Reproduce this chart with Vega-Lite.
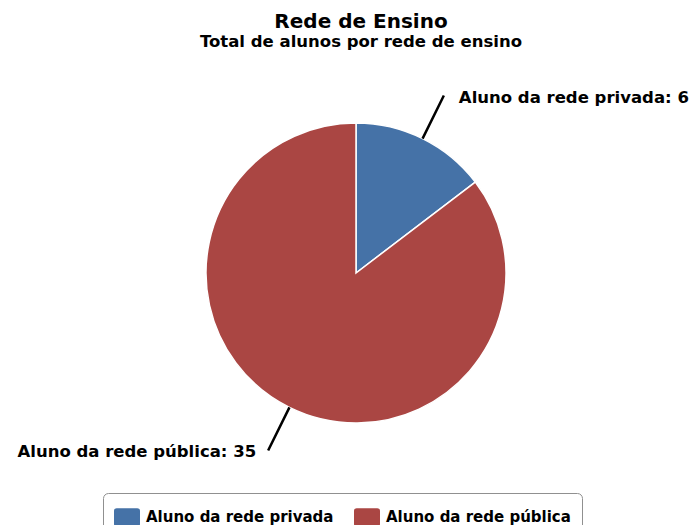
{
  "$schema": "https://vega.github.io/schema/vega-lite/v6.json",
  "width": 672,
  "height": 426,
  "autosize": "none",
  "padding": {"left": 20, "top": 60, "right": 0, "bottom": 39},
  "background": "#ffffff",
  "title": {
    "text": "Rede de Ensino",
    "subtitle": "Total de alunos por rede de ensino",
    "font": "DejaVu Sans",
    "fontSize": 20,
    "fontWeight": "bold",
    "color": "#000000",
    "subtitleFont": "DejaVu Sans",
    "subtitleFontSize": 16.5,
    "subtitleFontWeight": "bold",
    "subtitleColor": "#000000",
    "subtitlePadding": 2,
    "anchor": "middle",
    "dx": 5,
    "offset": 10
  },
  "data": {
    "values": [
      {"rede": "Aluno da rede privada", "total": 6},
      {"rede": "Aluno da rede pública", "total": 35}
    ]
  },
  "layer": [
    {
      "mark": {"type": "arc", "outerRadius": 150, "stroke": "#ffffff", "strokeWidth": 1.5},
      "encoding": {
        "theta": {"field": "total", "type": "quantitative", "stack": true},
        "color": {
          "field": "rede",
          "type": "nominal",
          "scale": {"domain": ["Aluno da rede privada", "Aluno da rede pública"], "range": ["#4572A7", "#AA4643"]},
          "legend": {
            "title": null,
            "orient": "none",
            "legendX": 83,
            "legendY": 433,
            "direction": "horizontal",
            "columns": 2,
            "symbolType": "M-0.8,-0.7 L0.8,-0.7 Q1,-0.7 1,-0.5 L1,0.5 Q1,0.7 0.8,0.7 L-0.8,0.7 Q-1,0.7 -1,0.5 L-1,-0.5 Q-1,-0.7 -0.8,-0.7 Z",
            "symbolSize": 676,
            "symbolStrokeWidth": 0,
            "symbolOpacity": 1,
            "labelFont": "DejaVu Sans",
            "labelFontSize": 15,
            "labelFontWeight": "bold",
            "labelColor": "#000000",
            "labelLimit": 400,
            "labelOffset": 6,
            "columnPadding": 20,
            "padding": 11,
            "strokeColor": "#909090",
            "cornerRadius": 5,
            "fillColor": "#ffffff"
          }
        }
      }
    },
    {
      "transform": [
        {"stack": "total", "groupby": [], "sort": [{"field": "rede", "order": "ascending"}], "as": ["s0", "s1"]},
        {"calculate": "(datum.s0 + datum.s1) / 2", "as": "mid"}
      ],
      "mark": {"type": "arc", "innerRadius": 150, "outerRadius": 198, "filled": false, "stroke": "#000000", "strokeWidth": 2.5},
      "encoding": {
        "theta": {"field": "mid", "type": "quantitative", "stack": null},
        "theta2": {"field": "mid"}
      }
    },
    {
      "mark": {
        "type": "text",
        "radius": 198,
        "font": "DejaVu Sans",
        "fontSize": 16.5,
        "fontWeight": "bold",
        "color": "#000000",
        "baseline": "alphabetic",
        "align": {"expr": "datum.rede === 'Aluno da rede privada' ? 'left' : 'right'"},
        "dx": {"expr": "datum.rede === 'Aluno da rede privada' ? 15 : -12"},
        "dy": 7
      },
      "encoding": {
        "theta": {"field": "total", "type": "quantitative", "stack": true},
        "text": {"field": "label", "type": "nominal"}
      },
      "transform": [
        {"calculate": "datum.rede + ': ' + datum.total", "as": "label"}
      ]
    }
  ]
}
